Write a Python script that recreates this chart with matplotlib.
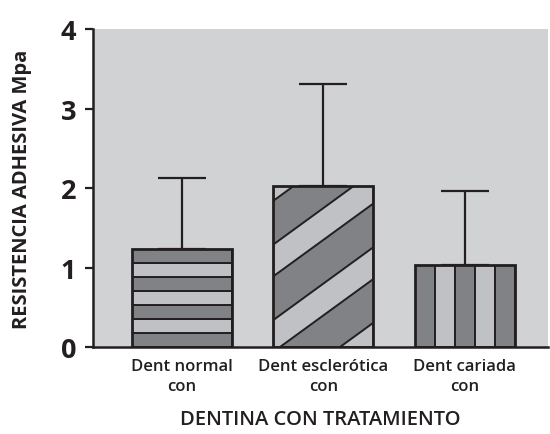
import numpy as np
import matplotlib.pyplot as plt
from matplotlib.patches import Rectangle, Polygon

# datos
grupos = ['Dent normal\ncon', 'Dent esclerótica\ncon', 'Dent cariada\ncon']
medias = [1.23, 2.03, 1.03]
desv = [0.90, 1.28, 0.93]
yticks = [0, 1, 2, 3, 4]

fondo = '#d1d2d4'
oscuro = '#808285'
claro = '#c0c1c4'
negro = '#231f20'

plt.rcParams['font.family'] = ['Open Sans', 'DejaVu Sans']

fig = plt.figure(figsize=(5.5, 4.35), dpi=100)
ax = fig.add_axes([0.169, 0.2, 0.827, 0.731])
ax.set_facecolor(fondo)

x = np.arange(len(grupos))
ancho = 0.707
barras = ax.bar(x, medias, width=ancho, color=oscuro, edgecolor='none', zorder=2)
ax.errorbar(x, medias, yerr=[np.zeros(len(medias)), desv], fmt='none',
            ecolor=negro, elinewidth=1.6, capsize=17.5, capthick=1.6, zorder=1)

lw = 1.4


def recortar(p, b):
    ax.add_patch(p)
    p.set_clip_path(b)


# barra 1: franjas horizontales
b = barras[0]
x0, w, h = b.get_x(), b.get_width(), b.get_height()
n = 7
for i in range(n):
    col = oscuro if i % 2 == 0 else claro
    recortar(Rectangle((x0, h * i / n), w, h / n, facecolor=col, edgecolor=negro,
                       linewidth=lw, zorder=3), b)

# barra 2: franjas diagonales
b = barras[1]
x0, w, h = b.get_x(), b.get_width(), b.get_height()
s = 1.295
lineas = [1.84, 1.29, 0.89, 0.34, -0.06, -0.61]
bandas = [(lineas[0] + 5, lineas[0]), (lineas[1], lineas[2]),
          (lineas[3], lineas[4]), (lineas[5], lineas[5] - 5)]
for hi, lo in bandas:
    recortar(Polygon([(x0, lo), (x0 + w, lo + s * w), (x0 + w, hi + s * w), (x0, hi)],
                     closed=True, facecolor=claro, edgecolor=negro, linewidth=lw,
                     zorder=3), b)

# barra 3: franjas verticales
b = barras[2]
x0, w, h = b.get_x(), b.get_width(), b.get_height()
n = 5
for i in range(n):
    col = oscuro if i % 2 == 0 else claro
    recortar(Rectangle((x0 + w * i / n, 0), w / n, h, facecolor=col, edgecolor=negro,
                       linewidth=lw, zorder=3), b)

# contorno de las barras
ax.bar(x, medias, width=ancho, fill=False, edgecolor=negro, linewidth=2.0, zorder=4)

ax.set_xlim(-0.63, 2.587)
ax.set_ylim(0, 4)
ax.set_yticks(yticks)
ax.set_yticklabels([str(t) for t in yticks], fontsize=19.5, fontweight='bold', color=negro)
ax.set_xticks(x)
ax.set_xticklabels(grupos, fontsize=12, fontweight='semibold', color=negro, linespacing=1.3)
ax.tick_params(axis='x', length=0, pad=8)
ax.tick_params(axis='y', length=6, width=1.6, color=negro, pad=6)

for lado in ['top', 'right']:
    ax.spines[lado].set_visible(False)
for lado in ['left', 'bottom']:
    ax.spines[lado].set_color(negro)
    ax.spines[lado].set_linewidth(1.8)
ax.spines['bottom'].set_zorder(5)

ax.set_ylabel('RESISTENCIA ADHESIVA Mpa', fontsize=14.5, fontweight='bold', color=negro, labelpad=21)
ax.set_xlabel('DENTINA CON TRATAMIENTO', fontsize=14.5, fontweight='semibold', color=negro, labelpad=11)

fig.savefig('out.png', dpi=100)
